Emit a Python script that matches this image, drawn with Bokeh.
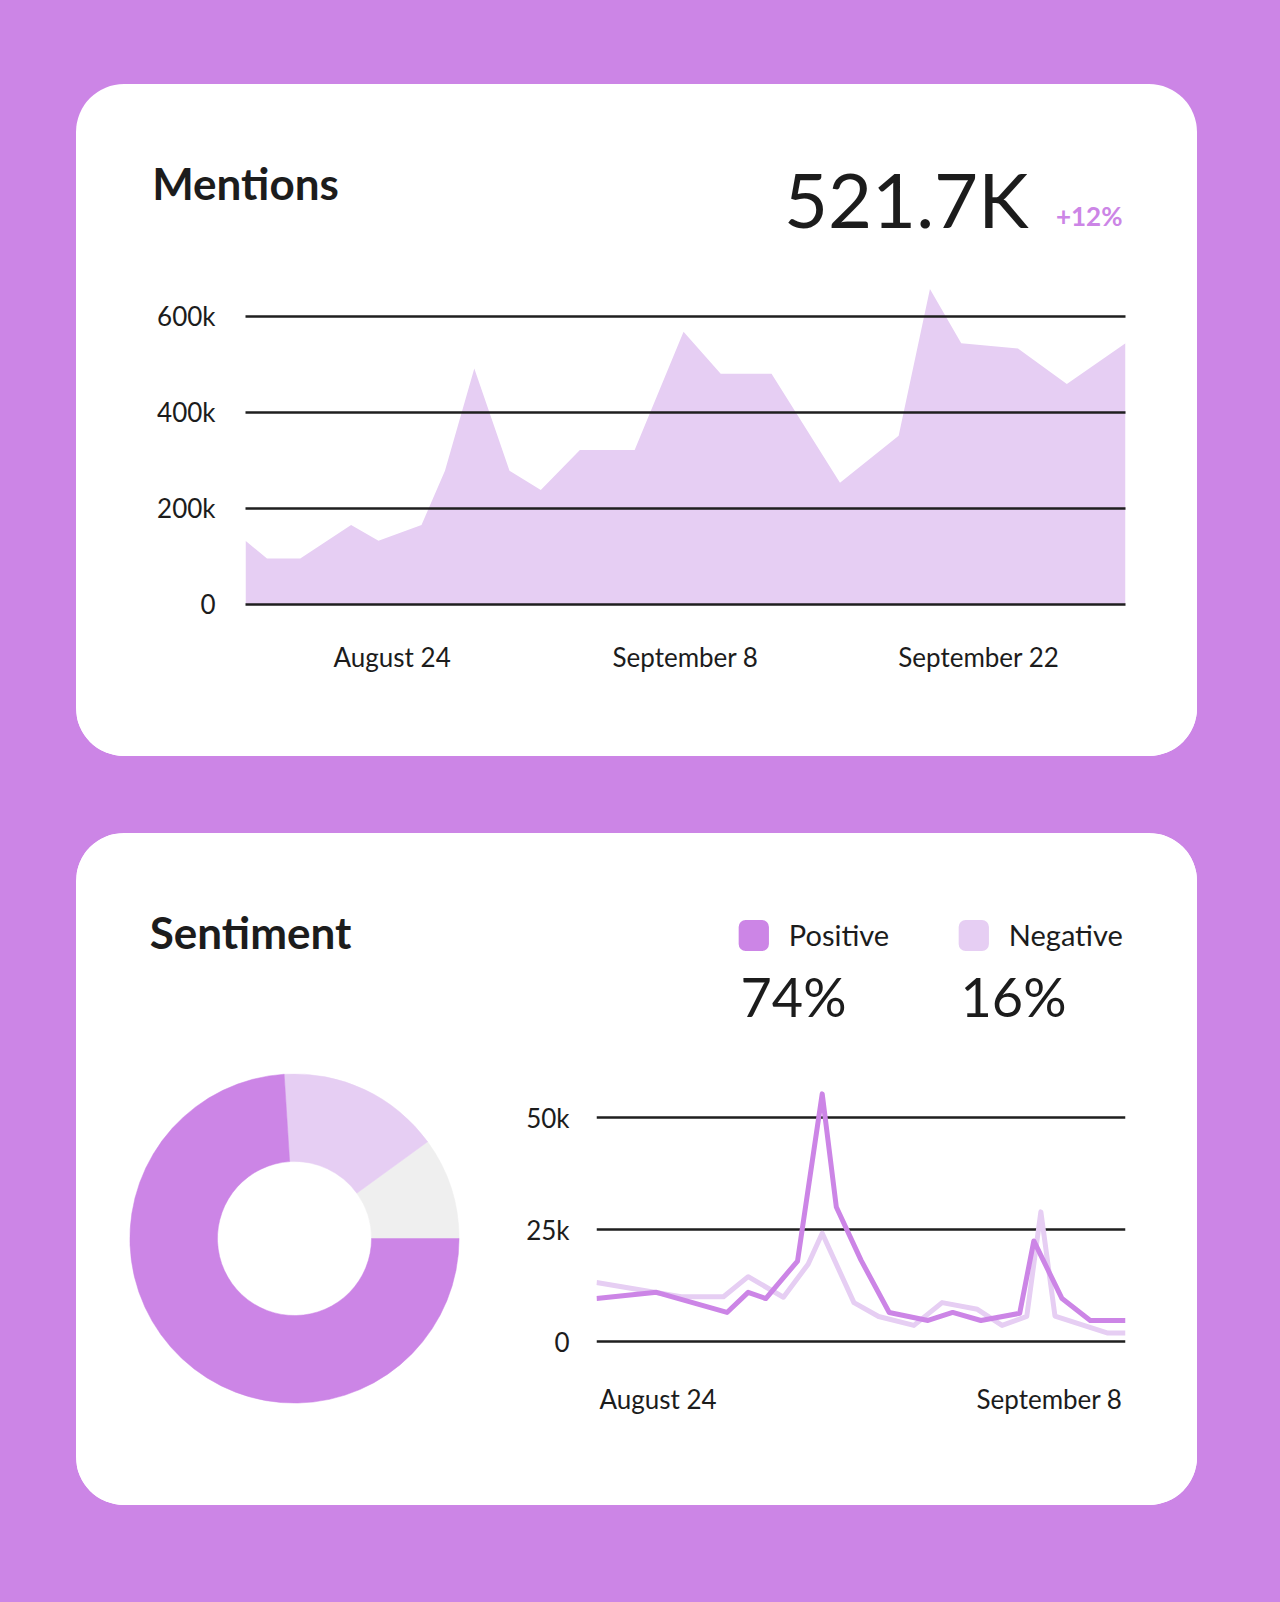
from bokeh.plotting import figure
from bokeh.models import Range1d, FixedTicker, Label, ColumnDataSource
from bokeh.layouts import column, row
from bokeh.embed import file_html
from bokeh.resources import INLINE
from math import pi

# ---------------- data ----------------
# Mentions (day offsets relative to the "August 24" tick)
mention_day = [-7.5, -6.4, -4.7, -2.1, -0.7, 1.5, 2.7, 4.2, 6.0, 7.6, 9.6, 12.4,
               14.9, 16.8, 19.4, 22.9, 25.9, 27.5, 29.1, 32.0, 34.5, 37.5]
mention_count = [132000, 95000, 95000, 165000, 132000, 165000, 278000, 491000,
                 278000, 238000, 321000, 321000, 568000, 480000, 480000, 253000,
                 351000, 657000, 544000, 533000, 459000, 544000]
mention_x_ticks = [0, 15, 30]
mention_x_labels = ["August 24", "September 8", "September 22"]
mention_y_ticks = [0, 200000, 400000, 600000]
mention_y_labels = ["0", "200k", "400k", "600k"]
mentions_total = "521.7K"
mentions_change = "+12%"

sentiment_names = ["Neutral", "Negative", "Positive"]
sentiment_share = [10, 16, 74]

positive_day = [0, 1.7, 3.7, 4.3, 4.8, 5.7, 6.4, 6.8, 7.5, 8.3, 9.4, 10.1,
                10.9, 12.0, 12.4, 13.2, 14.0, 15.0]
positive_count = [9600, 11000, 6500, 11000, 9600, 18000, 55400, 30100, 18200,
                  6500, 4700, 6500, 4700, 6300, 22500, 9600, 4700, 4700]
negative_day = [0, 2.4, 3.6, 4.3, 5.3, 6.0, 6.4, 7.3, 8.0, 9.0, 9.8, 10.8,
                11.5, 12.2, 12.6, 13.0, 14.5, 15.0]
negative_count = [13200, 10000, 10000, 14500, 9900, 17300, 24200, 8700, 5600,
                  3600, 8700, 7200, 3600, 5600, 29000, 5700, 1900, 1900]
sent_y_ticks = [0, 25000, 50000]
sent_y_labels = ["0", "25k", "50k"]
sent_x_pos = [0, 15]
sent_x_labels = ["August 24", "September 8"]
legend_names = ["Positive", "Negative"]
legend_values = ["74%", "16%"]

# ---------------- style ----------------
PURPLE = "#CC85E6"
LIGHT = "#E6CEF3"
GRAY = "#EFEFEF"
INK = "#1C1C1C"
GRID = "#1F1F1F"
FONT = "Lato"
CARD = {"background-color": "white", "border-radius": "48px",
        "overflow": "hidden"}


def base_fig(**kw):
    p = figure(output_backend="svg", toolbar_location=None, title=None,
               background_fill_color=None, border_fill_color="white",
               outline_line_color=None, **kw)
    if "frame_align" in p.properties():
        p.frame_align = False
    return p


def style_axis(ax, standoff):
    ax.axis_line_color = None
    ax.major_tick_line_color = None
    ax.minor_tick_line_color = None
    ax.major_tick_out = 0
    ax.major_tick_in = 0
    ax.minor_tick_out = 0
    ax.minor_tick_in = 0
    ax.major_label_text_font = FONT
    ax.major_label_text_font_size = "26px"
    ax.major_label_text_color = INK
    ax.major_label_standoff = standoff


def text(p, x, y, s, size, align="left", bold=False, color=INK, xu="screen",
         x_offset=0):
    # y is the wanted baseline; shift to compensate for the renderer's
    # baseline placement
    p.add_layout(Label(x=x, y=y + 0.39 * size, x_units=xu, y_units="screen",
                       x_offset=x_offset, text=s,
                       text_font=FONT, text_font_size="%dpx" % size,
                       text_font_style="bold" if bold else "normal",
                       text_color=color, text_align=align,
                       text_baseline="alphabetic"))


# ---------------- card 1: mentions ----------------
h1 = base_fig(frame_width=1121, frame_height=190, min_border=0,
              x_range=Range1d(0, 1), y_range=Range1d(0, 1),
              x_axis_location=None, y_axis_location=None)
h1.grid.visible = False
text(h1, 75.7, 74.7, "Mentions", 44, bold=True)
text(h1, 952, 46, mentions_total, 76, align="right")
text(h1, 1046, 48.3, mentions_change, 26, align="right", bold=True,
     color=PURPLE)

p1 = base_fig(frame_width=880, frame_height=319,
              x_range=Range1d(-7.5, 37.5), y_range=Range1d(-5000, 660000),
              min_border_left=169, min_border_right=72,
              min_border_top=13, min_border_bottom=150)
src1 = ColumnDataSource(dict(day=mention_day, count=mention_count))
p1.varea(x="day", y1=0, y2="count", source=src1, fill_color=LIGHT)

p1.xaxis.ticker = FixedTicker(ticks=mention_x_ticks)
p1.xaxis.major_label_overrides = dict(zip(mention_x_ticks, mention_x_labels))
style_axis(p1.xaxis[0], 34)
p1.yaxis.ticker = FixedTicker(ticks=mention_y_ticks)
p1.yaxis.major_label_overrides = dict(zip(mention_y_ticks, mention_y_labels))
style_axis(p1.yaxis[0], 30)
p1.xgrid.visible = False
p1.ygrid.ticker = FixedTicker(ticks=mention_y_ticks)
p1.ygrid.grid_line_color = GRID
p1.ygrid.grid_line_width = 2.5
p1.ygrid.level = "overlay"

card1 = column([h1, p1], spacing=0, styles=CARD)

# ---------------- card 2: sentiment ----------------
R = 1.0207
p2 = base_fig(frame_width=336, frame_height=540,
              x_range=Range1d(-R, R), y_range=Range1d(-1.1847, 2.0960),
              min_border_left=50, min_border_right=54,
              min_border_top=60, min_border_bottom=72,
              x_axis_location=None, y_axis_location=None)
p2.grid.visible = False
total = float(sum(sentiment_share))
starts, ends = [], []
acc = 0.0
for s in sentiment_share:
    starts.append(2 * pi * acc / total)
    acc += s
    ends.append(2 * pi * acc / total)
src2 = ColumnDataSource(dict(name=sentiment_names, start=starts, end=ends,
                             color=[GRAY, LIGHT, PURPLE]))
p2.annular_wedge(x=0, y=0, inner_radius=0.468, outer_radius=1.0,
                 start_angle="start", end_angle="end", fill_color="color",
                 line_color="color", line_width=0.5, source=src2)
text(p2, 23.3, 484.3, "Sentiment", 44, bold=True)

p3 = base_fig(frame_width=529, frame_height=540,
              x_range=Range1d(0, 15), y_range=Range1d(-20580, 100220),
              min_border_left=80, min_border_right=72,
              min_border_top=60, min_border_bottom=72,
              x_axis_location=None)
p3.yaxis.ticker = FixedTicker(ticks=sent_y_ticks)
p3.yaxis.major_label_overrides = dict(zip(sent_y_ticks, sent_y_labels))
style_axis(p3.yaxis[0], 27)
p3.xgrid.visible = False
p3.ygrid.ticker = FixedTicker(ticks=sent_y_ticks)
p3.ygrid.grid_line_color = GRID
p3.ygrid.grid_line_width = 2.5

p3.line(negative_day, negative_count, line_color=LIGHT, line_width=5,
        line_join="round")
p3.line(positive_day, positive_count, line_color=PURPLE, line_width=5,
        line_join="round")

sq_x = [157.3, 377.3]
name_x = [192.3, 412.3]
val_x = [144, 364]
for i, (nm, vl, c) in enumerate(zip(legend_names, legend_values, [PURPLE, LIGHT])):
    p3.add_layout(Label(x=sq_x[i], y=498, x_units="screen", y_units="screen",
                        text=" ", text_font_size="1px", text_align="center",
                        text_baseline="middle", background_fill_color=c,
                        border_radius=7, padding=15))
    text(p3, name_x[i], 487.3, nm, 29)
    text(p3, val_x[i], 416.3, vl, 54)

for xv, lab, al, off in zip(sent_x_pos, sent_x_labels, ["left", "right"], [3, -3]):
    text(p3, xv, 24, lab, 26, align=al, xu="data", x_offset=off)

card2 = row([p2, p3], spacing=0, styles=CARD)

root = column([card1, card2], spacing=77,
              styles={"background-color": PURPLE,
                      "padding": "84px 83px 97px 76px"})

open("out.html", "w").write(file_html(root, INLINE))
